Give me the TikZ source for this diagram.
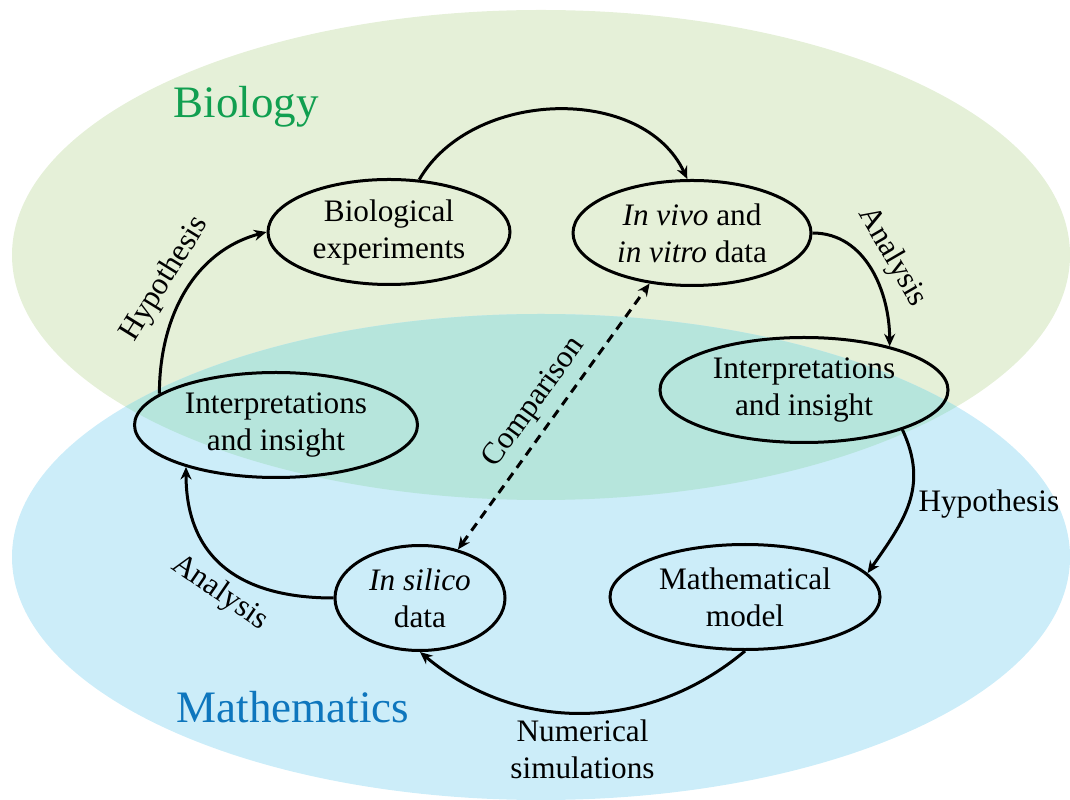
\documentclass[tikz,border=0pt]{standalone}
\usepackage{fontspec}
\setmainfont{Liberation Serif}
\usetikzlibrary{shapes.geometric,arrows.meta}
\definecolor{biobg}{HTML}{E5F0D8}
\definecolor{mathbg}{HTML}{CCEDF9}
\definecolor{bothbg}{HTML}{B6E5DC}
\definecolor{biotext}{HTML}{119F50}
\definecolor{mathtext}{HTML}{0E76BD}

\begin{document}
\begin{tikzpicture}[->,>={Stealth[length=5pt,width=4.4pt]},auto,x=0.4pt,y=0.4pt,line width=1.2pt,
    font=\fontsize{12.5}{14.8}\selectfont,
    stage/.style={ellipse,draw,inner sep=0pt,minimum height=42pt,align=center},
    field/.style={font=\fontsize{18}{21}\selectfont,anchor=base}]
  \useasboundingbox (0,0) rectangle (1070,799);
  % the two fields
  \fill [biobg] (541,544) ellipse [x radius=529,y radius=245];
  \fill [mathbg] (541,242) ellipse [x radius=529,y radius=243];
  \begin{scope}
    \clip (541,544) ellipse [x radius=529,y radius=245];
    \fill [bothbg] (541,242) ellipse [x radius=529,y radius=243];
  \end{scope}
  \node [field,text=biotext] (biology) at (246,681) {Biology};
  \node [field,text=mathtext] (maths) at (293,77) {Mathematics};
  % the cycle
  \node [stage,minimum width=96.8pt] (bio) at (389,567) {Biological\\experiments};
  \node [stage,minimum width=95.2pt] (vivo) at (692,566) {\textit{In vivo} and\\\textit{in vitro} data};
  \node [stage,minimum width=115.2pt] (intR) at (804,409) {Interpretations\\and insight};
  \node [stage,minimum width=113.2pt] (intL) at (276,374) {Interpretations\\and insight};
  \node [stage,minimum width=68pt] (silico) at (420,201) {\textit{In silico}\\data};
  \node [stage,minimum width=108pt] (model) at (745,202) {Mathematical\\model};
  \path
    (bio.60) edge [out=60,in=115] (vivo.95)
    (vivo.east) edge [out=0,in=90] node [sloped] {Analysis} (intR.27)
    (intR.-22) edge [out=-65,in=55,looseness=1.1] node [right] {Hypothesis} (model.11)
    (model.south) edge [out=-140,in=-40] node [align=center,inner sep=2pt] {Numerical\\simulations} (silico.south)
    (silico.west) edge [out=180,in=-90,looseness=1.2] node [sloped,swap,pos=0.45] {Analysis} (intL.-155)
    (intL.165) edge [out=90,in=195] node [sloped] {Hypothesis} (bio.west)
    (silico.52) edge [<->,dash pattern=on 3.6pt off 2.6pt] node [sloped] {Comparison} (vivo.-130)
  ;
\end{tikzpicture}
\end{document}
